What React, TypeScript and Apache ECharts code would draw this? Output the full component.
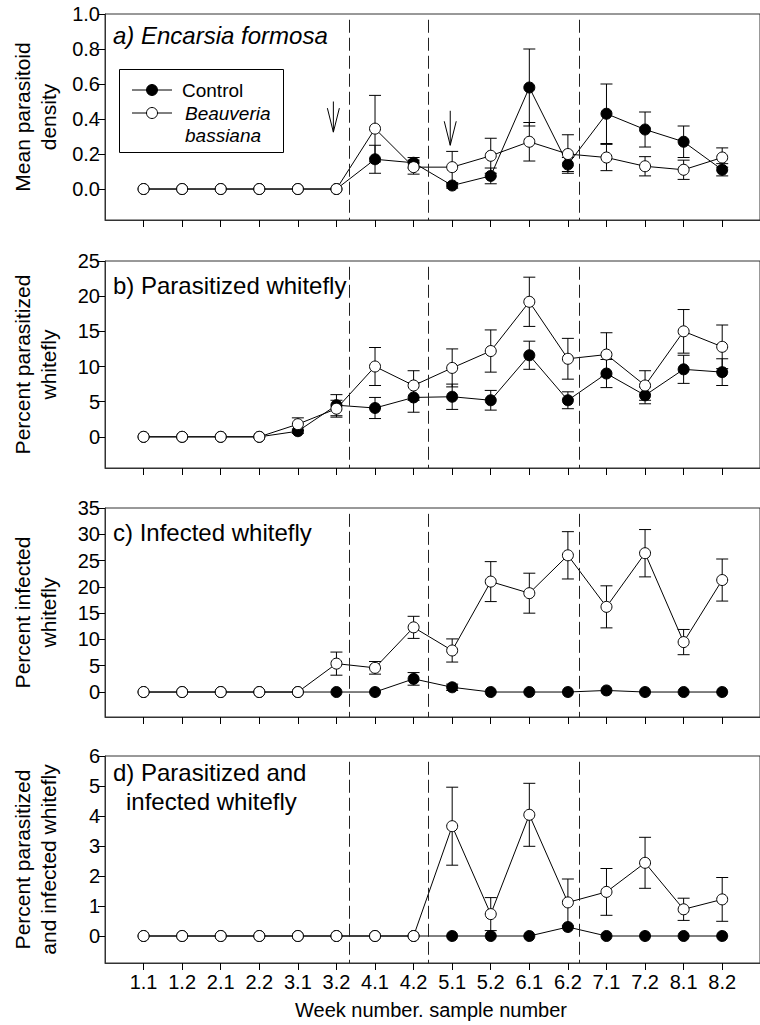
import React, { useEffect, useRef } from "react";
import * as echarts from "echarts";

const FONT = '"Liberation Sans", Arial, Helvetica, sans-serif';

const weekLabels = ["1.1", "1.2", "2.1", "2.2", "3.1", "3.2", "4.1", "4.2", "5.1", "5.2", "6.1", "6.2", "7.1", "7.2", "8.1", "8.2"];
const positions = [1, 2, 3, 4, 5, 6, 7, 8, 9, 10, 11, 12, 13, 14, 15, 16];

// a) Encarsia formosa – mean parasitoid density
const aControl = [0, 0, 0, 0, 0, 0, 0.17, 0.15, 0.02, 0.075, 0.58, 0.14, 0.43, 0.34, 0.27, 0.11];
const aControlSE = [0, 0, 0, 0, 0, 0, 0.08, 0.03, 0.015, 0.045, 0.22, 0.04, 0.17, 0.1, 0.09, 0.035];
const aBeauveria = [0, 0, 0, 0, 0, 0, 0.345, 0.125, 0.125, 0.19, 0.27, 0.2, 0.18, 0.13, 0.11, 0.18];
const aBeauveriaSE = [0, 0, 0, 0, 0, 0, 0.19, 0.04, 0.09, 0.1, 0.11, 0.11, 0.075, 0.055, 0.055, 0.055];

// b) Parasitized whitefly (%)
const bControl = [0, 0, 0, 0, 0.8, 4.5, 4.1, 5.6, 5.7, 5.2, 11.6, 5.2, 9.0, 5.9, 9.6, 9.2];
const bControlSE = [0, 0, 0, 0, 0.3, 1.5, 1.5, 2.1, 1.8, 1.4, 2.0, 1.2, 2.0, 1.2, 2.0, 1.9];
const bBeauveria = [0, 0, 0, 0, 1.8, 4.0, 10.0, 7.3, 9.8, 12.2, 19.2, 11.1, 11.7, 7.3, 15.0, 12.8];
const bBeauveriaSE = [0, 0, 0, 0, 0.9, 1.2, 2.7, 2.1, 2.7, 3.0, 3.5, 2.9, 3.1, 2.1, 3.1, 3.1];

// c) Infected whitefly (%)
const cControl = [0, 0, 0, 0, 0, 0, 0, 2.5, 0.9, 0, 0, 0, 0.3, 0, 0, 0];
const cControlSE = [0, 0, 0, 0, 0, 0, 0, 1.2, 0.6, 0, 0, 0, 0, 0, 0, 0];
const cBeauveria = [0, 0, 0, 0, 0, 5.4, 4.6, 12.3, 7.9, 21.0, 18.8, 26.0, 16.2, 26.4, 9.5, 21.3];
const cBeauveriaSE = [0, 0, 0, 0, 0, 2.2, 1.2, 2.1, 2.2, 3.8, 3.8, 4.5, 4.0, 4.5, 2.4, 4.0];

// d) Parasitized and infected whitefly (%)
const dControl = [0, 0, 0, 0, 0, 0, 0, 0, 0, 0, 0, 0.3, 0, 0, 0, 0];
const dControlSE = [0, 0, 0, 0, 0, 0, 0, 0, 0, 0, 0, 0, 0, 0, 0, 0];
const dBeauveria = [0, 0, 0, 0, 0, 0, 0, 0, 3.66, 0.73, 4.04, 1.12, 1.47, 2.44, 0.89, 1.22];
const dBeauveriaSE = [0, 0, 0, 0, 0, 0, 0, 0, 1.3, 0.55, 1.05, 0.78, 0.78, 0.85, 0.37, 0.73];

const yTicksA = [0, 0.2, 0.4, 0.6, 0.8, 1.0];
const yTicksB = [0, 5, 10, 15, 20, 25];
const yTicksC = [0, 5, 10, 15, 20, 25, 30, 35];
const yTicksD = [0, 1, 2, 3, 4, 5, 6];

// vertical dashed separators (between sampling periods)
const separators = [6.33, 8.38, 12.3];
// spray arrows in panel a: [x, top, tip]
const arrows = [
  [5.92, 0.5, 0.325],
  [8.95, 0.447, 0.25],
];

const panels = [
  { title: "a) Encarsia formosa", italic: true, titleY: 35, yName: "Mean parasitoid\ndensity", control: aControl, controlSE: aControlSE, beau: aBeauveria, beauSE: aBeauveriaSE, ticks: yTicksA, min: -0.177, max: 1.0, dec: 1, top: 14, height: 206 },
  { title: "b) Parasitized whitefly", italic: false, titleY: 285, yName: "Percent parasitized\nwhitefly", control: bControl, controlSE: bControlSE, beau: bBeauveria, beauSE: bBeauveriaSE, ticks: yTicksB, min: -4.43, max: 25, dec: 0, top: 261, height: 207 },
  { title: "c) Infected whitefly", italic: false, titleY: 532, yName: "Percent infected\nwhitefly", control: cControl, controlSE: cControlSE, beau: cBeauveria, beauSE: cBeauveriaSE, ticks: yTicksC, min: -4.75, max: 35, dec: 0, top: 508, height: 209 },
  { title: "d) Parasitized and", title2: "infected whitefly", italic: false, titleY: 772, yName: "Percent parasitized\nand infected whitefly", control: dControl, controlSE: dControlSE, beau: dBeauveria, beauSE: dBeauveriaSE, ticks: yTicksD, min: -0.9, max: 6, dec: 0, top: 756, height: 207 },
];

const GRID_LEFT = 105;
const GRID_WIDTH = 660;
const X_MAX = 16.98;

function errorRender(params: any, api: any) {
  const x = api.value(0);
  const y = api.value(1);
  const se = api.value(2);
  if (!se) return null;
  const t = api.coord([x, y + se]);
  const b = api.coord([x, y - se]);
  const hw = 6;
  const st = { stroke: "#000", lineWidth: 1 };
  return {
    type: "group",
    children: [
      { type: "line", shape: { x1: t[0], y1: t[1], x2: b[0], y2: b[1] }, style: st },
      { type: "line", shape: { x1: t[0] - hw, y1: t[1], x2: t[0] + hw, y2: t[1] }, style: st },
      { type: "line", shape: { x1: b[0] - hw, y1: b[1], x2: b[0] + hw, y2: b[1] }, style: st },
    ],
  };
}

function arrowRender(params: any, api: any) {
  const x = api.value(0);
  const top = api.coord([x, api.value(1)]);
  const tip = api.coord([x, api.value(2)]);
  const st = { stroke: "#000", lineWidth: 1, fill: "none" };
  const headLen = Math.min(24, tip[1] - top[1]);
  return {
    type: "group",
    children: [
      { type: "line", shape: { x1: top[0], y1: top[1], x2: tip[0], y2: tip[1] }, style: st },
      {
        type: "polyline",
        shape: { points: [[tip[0] - 6, tip[1] - headLen], [tip[0], tip[1]], [tip[0] + 6, tip[1] - headLen]] },
        style: st,
      },
    ],
  };
}

function buildOption() {
  const grid: any[] = [];
  const xAxis: any[] = [];
  const yAxis: any[] = [];
  const series: any[] = [];
  const graphic: any[] = [];

  panels.forEach((p, i) => {
    grid.push({ left: GRID_LEFT, top: p.top, width: GRID_WIDTH, height: p.height, show: true, borderColor: "#333", borderWidth: 1, backgroundColor: "transparent" });
    xAxis.push({
      type: "value",
      gridIndex: i,
      min: 0,
      max: X_MAX,
      splitLine: { show: false },
      axisLine: { show: true, onZero: false, lineStyle: { color: "#333", width: 1 } },
      axisTick: { show: true, inside: false, length: 7, customValues: positions, lineStyle: { color: "#000" } },
      axisLabel: {
        show: i === panels.length - 1,
        customValues: positions,
        formatter: (v: number) => weekLabels[Math.round(v) - 1] ?? "",
        fontSize: 20,
        fontFamily: FONT,
        color: "#000",
        margin: 9,
      },
    });
    yAxis.push({
      type: "value",
      gridIndex: i,
      min: p.min,
      max: p.max,
      splitLine: { show: false },
      axisLine: { show: true, onZero: false, lineStyle: { color: "#333", width: 1 } },
      axisTick: { show: true, inside: false, length: 7, customValues: p.ticks, lineStyle: { color: "#000" } },
      axisLabel: {
        customValues: p.ticks,
        formatter: (v: number) => v.toFixed(p.dec),
        fontSize: 20,
        fontFamily: FONT,
        color: "#000",
        margin: 5,
      },
    });

    const topVal = p.max - (p.max - p.min) * 0.028;
    series.push({
      type: "custom",
      xAxisIndex: i,
      yAxisIndex: i,
      renderItem: errorRender,
      data: positions.map((x, k) => [x, p.control[k], p.controlSE[k]]),
      z: 1,
      silent: true,
      markLine: {
        silent: true,
        symbol: ["none", "none"],
        label: { show: false },
        lineStyle: { type: [13, 5], color: "#222", width: 1 },
        data: separators.map((s) => [{ coord: [s, topVal] }, { coord: [s, p.min] }]),
      },
    });
    series.push({
      type: "custom",
      xAxisIndex: i,
      yAxisIndex: i,
      renderItem: errorRender,
      data: positions.map((x, k) => [x, p.beau[k], p.beauSE[k]]),
      z: 1,
      silent: true,
    });
    series.push({
      name: "Control",
      type: "line",
      xAxisIndex: i,
      yAxisIndex: i,
      data: positions.map((x, k) => [x, p.control[k]]),
      symbol: "circle",
      symbolSize: 11,
      showSymbol: true,
      itemStyle: { color: "#000", borderColor: "#000", borderWidth: 1 },
      lineStyle: { color: "#000", width: 1 },
      z: 2,
      silent: true,
    });
    series.push({
      name: "Beauveria bassiana",
      type: "line",
      xAxisIndex: i,
      yAxisIndex: i,
      data: positions.map((x, k) => [x, p.beau[k]]),
      symbol: "circle",
      symbolSize: 11,
      showSymbol: true,
      itemStyle: { color: "#fff", borderColor: "#000", borderWidth: 1 },
      lineStyle: { color: "#000", width: 1 },
      z: 3,
      silent: true,
    });

    // panel title
    graphic.push({
      type: "text",
      x: 113,
      y: p.titleY,
      z: 10,
      style: {
        text: p.title,
        font: `${p.italic ? "italic " : ""}24px ${FONT}`,
        fill: "#000",
        align: "left",
        verticalAlign: "middle",
      },
    });
    if (p.title2) {
      graphic.push({
        type: "text",
        x: 126,
        y: p.titleY + 29,
        z: 10,
        style: { text: p.title2, font: `24px ${FONT}`, fill: "#000", align: "left", verticalAlign: "middle" },
      });
    }
    // y axis name
    graphic.push({
      type: "text",
      x: 35,
      y: p.top + p.height / 2,
      rotation: Math.PI / 2,
      z: 10,
      style: {
        text: p.yName,
        font: `21px ${FONT}`,
        lineHeight: 26,
        fill: "#000",
        align: "center",
        verticalAlign: "middle",
      },
    });
  });

  // arrows in panel a
  series.push({
    type: "custom",
    xAxisIndex: 0,
    yAxisIndex: 0,
    renderItem: arrowRender,
    data: arrows,
    z: 4,
    silent: true,
  });

  // x axis title
  graphic.push({
    type: "text",
    x: 431,
    y: 1010,
    style: { text: "Week number. sample number", font: `20px ${FONT}`, fill: "#000", align: "center", verticalAlign: "middle" },
  });

  // legend box (panel a)
  graphic.push({
    type: "group",
    z: 20,
    children: [
      { type: "rect", shape: { x: 119.5, y: 69.5, width: 164, height: 83 }, style: { fill: "#fff", stroke: "#000", lineWidth: 1 } },
      { type: "line", shape: { x1: 132, y1: 90, x2: 172, y2: 90 }, style: { stroke: "#000", lineWidth: 1 } },
      { type: "circle", shape: { cx: 152, cy: 90, r: 5.5 }, style: { fill: "#000", stroke: "#000", lineWidth: 1 } },
      { type: "text", x: 182, y: 90, style: { text: "Control", font: `19px ${FONT}`, fill: "#000", align: "left", verticalAlign: "middle" } },
      { type: "line", shape: { x1: 132, y1: 113, x2: 172, y2: 113 }, style: { stroke: "#000", lineWidth: 1 } },
      { type: "circle", shape: { cx: 152, cy: 113, r: 5.5 }, style: { fill: "#fff", stroke: "#000", lineWidth: 1 } },
      { type: "text", x: 185, y: 113, style: { text: "Beauveria", font: `italic 19px ${FONT}`, fill: "#000", align: "left", verticalAlign: "middle" } },
      { type: "text", x: 185, y: 135, style: { text: "bassiana", font: `italic 19px ${FONT}`, fill: "#000", align: "left", verticalAlign: "middle" } },
    ],
  });

  return {
    animation: false,
    backgroundColor: "#fff",
    textStyle: { fontFamily: FONT },
    grid,
    xAxis,
    yAxis,
    series,
    graphic,
  };
}

export default function App() {
  const ref = useRef<HTMLDivElement>(null);
  useEffect(() => {
    if (!ref.current) return;
    const chart = echarts.init(ref.current, undefined, { renderer: "svg" });
    chart.setOption(buildOption() as any);
    return () => chart.dispose();
  }, []);
  return (
    <div
      ref={ref}
      style={{ position: "absolute", left: 0, top: 0, width: 760, height: 1025, background: "#fff" }}
    />
  );
}
